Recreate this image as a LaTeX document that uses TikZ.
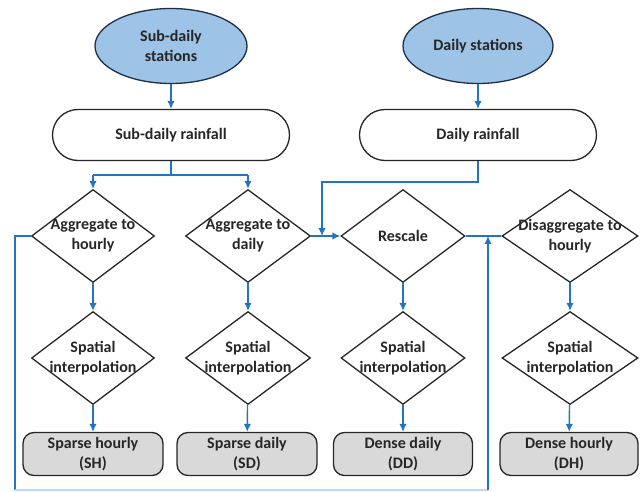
\documentclass[tikz,border=0pt]{standalone}
\usepackage{fontspec}
\setmainfont{Carlito}
\usetikzlibrary{shapes.geometric,arrows.meta}
\definecolor{flowblue}{HTML}{2574C0}
\definecolor{faintblue}{HTML}{B8DDF0}
\definecolor{ellfill}{HTML}{9DC3E6}
\definecolor{ellborder}{HTML}{1F2F4A}
\definecolor{boxgray}{HTML}{D9D9D9}
\definecolor{txt}{HTML}{262626}
\tikzset{
  words/.style={text=txt, font=\fontsize{16}{20}\selectfont\bfseries, align=center, inner sep=0pt},
  base/.style={words, line width=1.3pt, draw=txt},
  station/.style={base, ellipse, draw=ellborder, fill=ellfill},
  rain/.style={base, rectangle, rounded corners=25.5pt, minimum width=237pt, minimum height=51pt, fill=white},
  decision/.style={base, diamond, minimum height=93pt},
  result/.style={base, rectangle, rounded corners=11pt, minimum height=43pt, fill=boxgray},
  conn/.style={draw=flowblue, line width=1.4pt},
  arr/.style={conn, -{Latex[length=8pt,width=7.5pt]}},
  faint/.style={draw=faintblue, line width=1.4pt}
}
\begin{document}
\begin{tikzpicture}[x=1pt,y=-1pt]
\useasboundingbox (0,0) rectangle (641,492);
% stations
\node[station, minimum width=152pt, minimum height=75pt] (e1) at (171,46) {Sub-daily\\stations};
\node[station, minimum width=150pt, minimum height=75pt] (e2) at (478,46) {Daily stations};
% rainfall
\node[rain] (r1) at (171,135) {Sub-daily rainfall};
\node[rain] (r2) at (478,135) {Daily rainfall};
% first row decisions
\node[decision, minimum width=123pt, label={[words]center:{Aggregate to\\hourly}}] (d1) at (93,236) {};
\node[decision, minimum width=125pt, label={[words]center:{Aggregate to\\daily}}] (d2) at (248,236) {};
\node[decision, minimum width=124pt, label={[words]center:{Rescale}}] (d3) at (403,236) {};
\node[decision, minimum width=136pt, label={[words]center:{Disaggregate to\\hourly}}] (d4) at (570,236) {};
% second row
\node[decision, minimum width=123pt, label={[words]center:{Spatial\\interpolation}}] (s1) at (93,358) {};
\node[decision, minimum width=125pt, label={[words]center:{Spatial\\interpolation}}] (s2) at (248,358) {};
\node[decision, minimum width=124pt, label={[words]center:{Spatial\\interpolation}}] (s3) at (403,358) {};
\node[decision, minimum width=136pt, label={[words]center:{Spatial\\interpolation}}] (s4) at (570,358) {};
% results
\node[result, minimum width=140pt] (b1) at (93,454) {Sparse hourly\\(SH)};
\node[result, minimum width=140pt] (b2) at (247,454) {Sparse daily\\(SD)};
\node[result, minimum width=139pt] (b3) at (403,454) {Dense daily\\(DD)};
\node[result, minimum width=138pt] (b4) at (569,454) {Dense hourly\\(DH)};
% coordinates
\coordinate (split) at (171,175);
\coordinate (sl) at (93,175);
\coordinate (sr) at (248,175);
\coordinate (dr) at (478,182);
\coordinate (drl) at (322,182);
\coordinate (drin) at (322,236);
\coordinate (c1) at (15,490);
\coordinate (c2) at (488,490);
\coordinate (jn) at (488,236);
% connectors
\draw[arr] (e1) -- (r1);
\draw[arr] (e2) -- (r2);
\draw[conn] (r1) -- (split);
\draw[conn] (sl) -- (sr);
\draw[arr] (sl) -- (d1.north);
\draw[arr] (sr) -- (d2.north);
\draw[arr] (d1) -- (s1);
\draw[arr] (d2) -- (s2);
\draw[arr] (d3) -- (s3);
\draw[arr] (d4) -- (s4);
\draw[arr] (s1) -- (b1);
\draw[arr] (s2) -- (b2);
\draw[arr] (s3) -- (b3);
\draw[arr] (s4) -- (b4);
\draw[arr] (d2.east) -- (d3.west);
\draw[arr] (r2.south) -- (dr) -- (drl) -- (drin);
\draw[conn] (d3.east) -- (d4.west);
\draw[conn] (d1.west) -| (c1);
\draw[faint] (c1) -- (c2);
\draw[arr] (c2) -- (jn);
\end{tikzpicture}
\end{document}
